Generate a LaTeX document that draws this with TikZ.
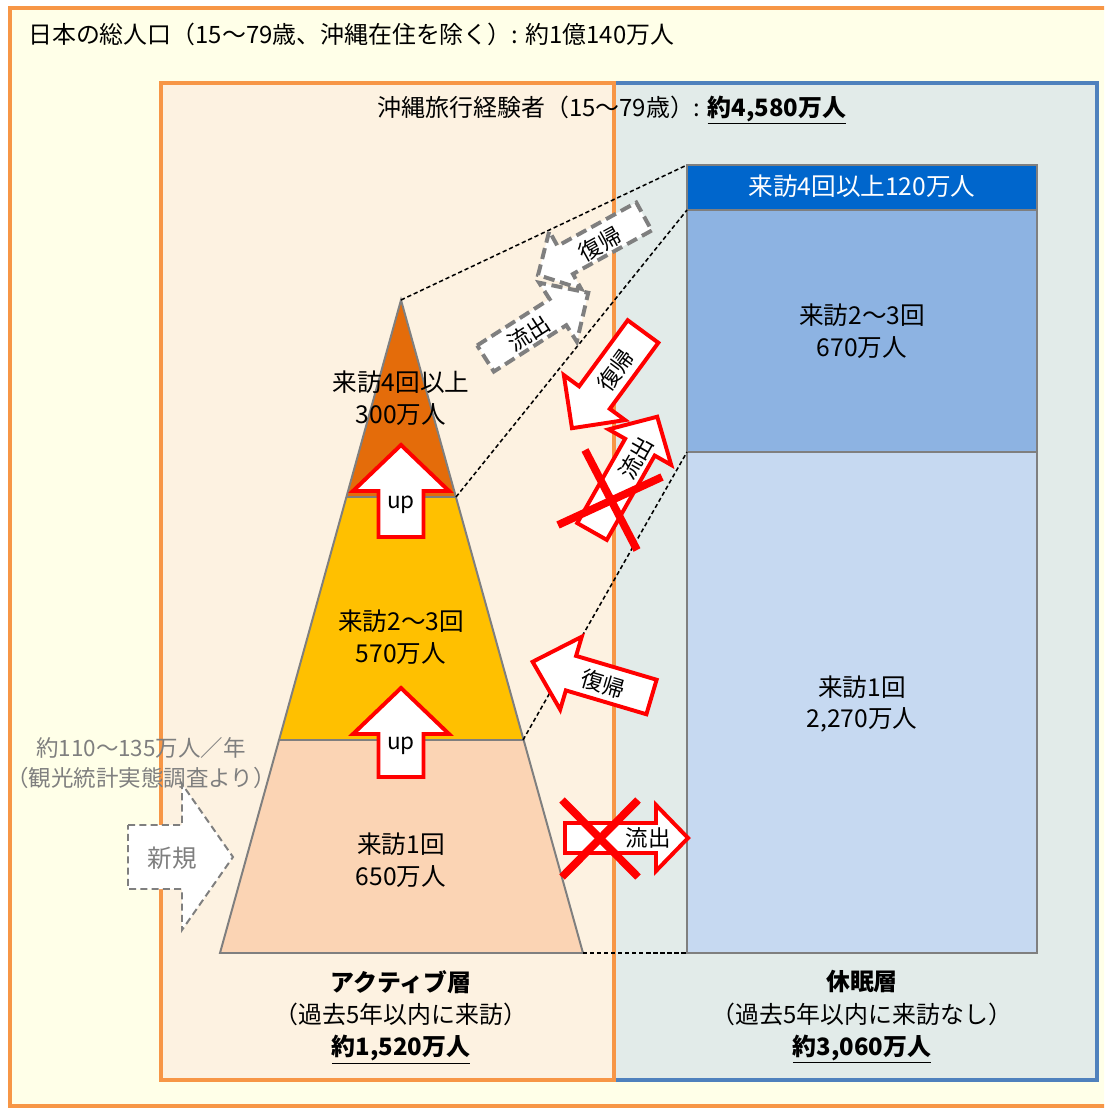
\documentclass[tikz,border=0pt]{standalone}
\usepackage{fontspec}
\setmainfont{Noto Sans CJK JP}
\definecolor{obg}{HTML}{FFFFE8}
\definecolor{oline}{HTML}{F79646}
\definecolor{actbg}{HTML}{FDF2E1}
\definecolor{slpbg}{HTML}{E2EBE9}
\definecolor{bline}{HTML}{4F81BD}
\definecolor{tierA}{HTML}{E46C0A}
\definecolor{tierB}{HTML}{FFC000}
\definecolor{tierC}{HTML}{FBD4B4}
\definecolor{stkA}{HTML}{0066CC}
\definecolor{stkB}{HTML}{8DB3E2}
\definecolor{stkC}{HTML}{C6D9F1}
\definecolor{gtxt}{HTML}{7F7F7F}
\newcommand\ulbold[1]{\textbf{\underline{#1}}}
\tikzset{
  pics/barrow/.style n args={4}{code={
    \path[pic actions] (0,-#2) -- ({#1-#4},-#2) -- ({#1-#4},-#3) -- (#1,0) -- ({#1-#4},#3) -- ({#1-#4},#2) -- (0,#2) -- cycle;}},
}
\begin{document}
\begin{tikzpicture}[x=0.025cm,y=-0.025cm,
  txt/.style={font=\fontsize{17.5}{22.5}\selectfont, align=center, inner sep=0pt},
  small/.style={font=\fontsize{16}{18}\selectfont, inner sep=0pt},
  tier/.style={draw=gtxt, line width=1.4pt},
  conn/.style={draw=black, line width=1.1pt, dash pattern=on 3pt off 2pt},
  redarrow/.style={draw=red, fill=white, line width=2.8pt, line join=miter},
  grayarrow/.style={draw=gtxt, fill=white, line width=2.8pt, dash pattern=on 8pt off 4pt},
  newarrow/.style={draw=gtxt, fill=white, line width=1.4pt, dash pattern=on 5pt off 3pt},
  crossx/.style={draw=red, line width=5.5pt},
]
\useasboundingbox (0,0) rectangle (1104,1108);
\clip (0,0) rectangle (1104,1108);
\fill[white] (0,0) rectangle (1104,1108);
% outer frame
\draw[oline, fill=obg, line width=2.8pt] (10,8) rectangle (1120,1106);
\node[txt, anchor=west, font=\fontsize{17}{22}\selectfont] (title) at (28,34) {日本の総人口（15〜79歳、沖縄在住を除く）: 約1億140万人};
% sleeping and active boxes
\draw[bline, fill=slpbg, line width=3.5pt] (612,83) rectangle (1097,1080);
\draw[oline, fill=actbg, line width=3.5pt] (161,83) rectangle (614,1080);
\node[txt, font=\fontsize{17}{22}\selectfont] (title2) at (612,110) {沖縄旅行経験者（15〜79歳）: \ulbold{約4,580万人}};
% pyramid
\coordinate (apex) at (401,300);
\coordinate (tAl) at (347,497); \coordinate (tAr) at (456,497);
\coordinate (tBl) at (279,740); \coordinate (tBr) at (523,740);
\coordinate (bl) at (220,953); \coordinate (br) at (583,953);
\fill[tierA] (apex) -- (tAr) -- (tAl) -- cycle;
\fill[tierB] (tAl) -- (tAr) -- (tBr) -- (tBl) -- cycle;
\fill[tierC] (tBl) -- (tBr) -- (br) -- (bl) -- cycle;
\draw[tier] (apex) -- (br) -- (bl) -- cycle;
\draw[tier] (tAl) -- (tAr);
\draw[tier] (tBl) -- (tBr);
% right stack
\coordinate (s1) at (687,165); \coordinate (s2) at (687,210);
\coordinate (s3) at (687,452); \coordinate (s4) at (687,953);
\draw[tier, fill=stkA] (s1) rectangle (1037,210);
\draw[tier, fill=stkB] (s2) rectangle (1037,452);
\draw[tier, fill=stkC] (s3) rectangle (1037,953);
\node[txt, text=white] (sA) at (862,186) {来訪4回以上120万人};
\node[txt] (sB) at (862,331) {来訪2〜3回\\670万人};
\node[txt] (sC) at (862,704) {来訪1回\\2,270万人};
% connectors
\draw[conn] (apex) -- (s1);
\draw[conn] (tAr) -- (s2);
\draw[conn] (tBr) -- (s3);
\draw[conn] (br) -- (s4);
% pyramid labels
\node[txt] (pA) at (401,398) {来訪4回以上\\300万人};
\node[txt] (pB) at (401,637) {来訪2〜3回\\570万人};
\node[txt] (pC) at (401,860) {来訪1回\\650万人};
% up arrows
\pic[redarrow, rotate=90] at (401,537) {barrow={92}{22.5}{48}{46}};
\node[small] (up1) at (401,505) {up};
\pic[redarrow, rotate=90] at (401,777) {barrow={89}{22.5}{48}{46}};
\node[small] (up2) at (401,746) {up};
% new
\pic[newarrow] at (128,857) {barrow={105}{32}{73}{51}};
\node[txt, text=gtxt] (newl) at (172,858) {新規};
\node[txt, text=gtxt, font=\fontsize{16}{21.3}\selectfont] (src) at (141,763) {約110〜135万人／年\\（観光統計実態調査より）};
% gray dashed arrows
\pic[grayarrow, rotate=32.6] at (485.5,358.5) {barrow={122}{15.5}{35}{36}};
\node[small, rotate=32.6] (gout) at (529,333) {流出};
\pic[grayarrow, rotate=208.9] at (644,216.5) {barrow={121}{16}{33}{31}};
\node[small, rotate=28.9] (gret) at (600,244) {復帰};
% red return upper
\pic[redarrow, rotate=233.7] at (643,331.5) {barrow={120}{19}{38}{38}};
\node[small, rotate=53.7] (rret1) at (616,370) {復帰};
% red outflow upper (crossed)
\pic[redarrow, rotate=60.4] at (592,531.5) {barrow={132}{17}{36}{35}};
\node[small, rotate=60.4] (rout1) at (636,458) {流出};
\draw[crossx] (585,450) -- (637,550);
\draw[crossx] (558,525) -- (662,477);
% red return lower
\pic[redarrow, rotate=163.5] at (651.5,697) {barrow={124}{18}{38}{40}};
\node[small, rotate=-16.5] (rret2) at (603,684) {復帰};
% red outflow lower (crossed)
\pic[redarrow] at (565,838) {barrow={123}{15}{33}{32}};
\node[small] (rout2) at (648,838) {流出};
\draw[crossx] (562,800) -- (638,877);
\draw[crossx] (638,800) -- (562,877);
% bottom labels
\node[txt, font=\fontsize{17}{22.8}\selectfont] (actl) at (401,1017) {\textbf{アクティブ層}\\（過去5年以内に来訪）\\\ulbold{約1,520万人}};
\node[txt, font=\fontsize{17}{22.8}\selectfont] (slpl) at (862,1017) {\textbf{休眠層}\\（過去5年以内に来訪なし）\\\ulbold{約3,060万人}};
\end{tikzpicture}
\end{document}
